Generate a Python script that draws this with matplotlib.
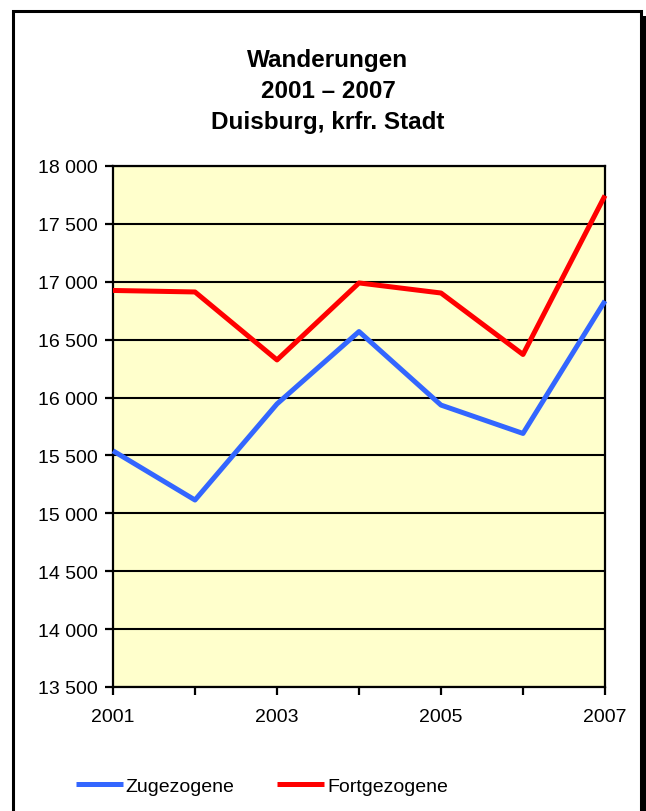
import matplotlib.pyplot as plt
from matplotlib.patches import Rectangle
from matplotlib.ticker import FuncFormatter

plt.rcParams['font.family'] = ['Liberation Sans', 'DejaVu Sans']

years = [2001, 2002, 2003, 2004, 2005, 2006, 2007]
zugezogene = [15540, 15115, 15945, 16570, 15935, 15690, 16835]
fortgezogene = [16925, 16912, 16325, 16990, 16903, 16372, 17745]
series_names = ['Zugezogene', 'Fortgezogene']
title_lines = ['Wanderungen', '2001 \u2013 2007', 'Duisburg, krfr. Stadt']

W, H = 646, 812
fig = plt.figure(figsize=(W / 100, H / 100), dpi=100)

# outer frame with drop shadow
fig.patches.append(Rectangle((18 / W, -0.05), 628 / W, 1 - 17 / H + 0.05,
                             transform=fig.transFigure, facecolor='black',
                             edgecolor='none', zorder=-2))
fig.patches.append(Rectangle((13 / W, -0.05), 628 / W, 1 - 12 / H + 0.05,
                             transform=fig.transFigure, facecolor='white',
                             edgecolor='black', linewidth=2.2, zorder=-1))

ax = fig.add_axes([113 / W, 1 - 688 / H, 492 / W, 521 / H])
ax.set_facecolor('#FFFFCC')

ax.plot(years, zugezogene, color='#3366FF', linewidth=3.6, label=series_names[0],
        solid_capstyle='butt', clip_on=False, zorder=3)
ax.plot(years, fortgezogene, color='#FF0000', linewidth=3.6, label=series_names[1],
        solid_capstyle='butt', clip_on=False, zorder=3)

ax.set_xlim(2001, 2007)
ax.set_ylim(13500, 18000)
ax.set_yticks(range(13500, 18001, 500))
ax.set_xticks(years)
ax.set_xticklabels([str(y) if y % 2 == 1 else '' for y in years])
ax.yaxis.set_major_formatter(FuncFormatter(lambda v, p: f'{int(v):,}'.replace(',', ' ')))

ax.grid(axis='y', color='black', linewidth=1.5)
ax.set_axisbelow(True)
for s in ax.spines.values():
    s.set_color('black')
    s.set_linewidth(1.6)
ax.tick_params(axis='both', direction='out', length=6, width=1.6, labelsize=14)
ax.tick_params(axis='x', pad=9)
ax.tick_params(axis='y', pad=5)

for i, line in enumerate(title_lines):
    fig.text(328 / W, 1 - (60 + 31 * i) / H, line, ha='center', va='center',
             fontsize=17.5, fontweight='bold')

fig.legend(loc='center', bbox_to_anchor=(262 / W, 1 - 787 / H), ncol=2,
           frameon=False, fontsize=14, handlelength=2.4, handletextpad=0.15,
           columnspacing=2.2)

fig.savefig('out.png', dpi=100)
